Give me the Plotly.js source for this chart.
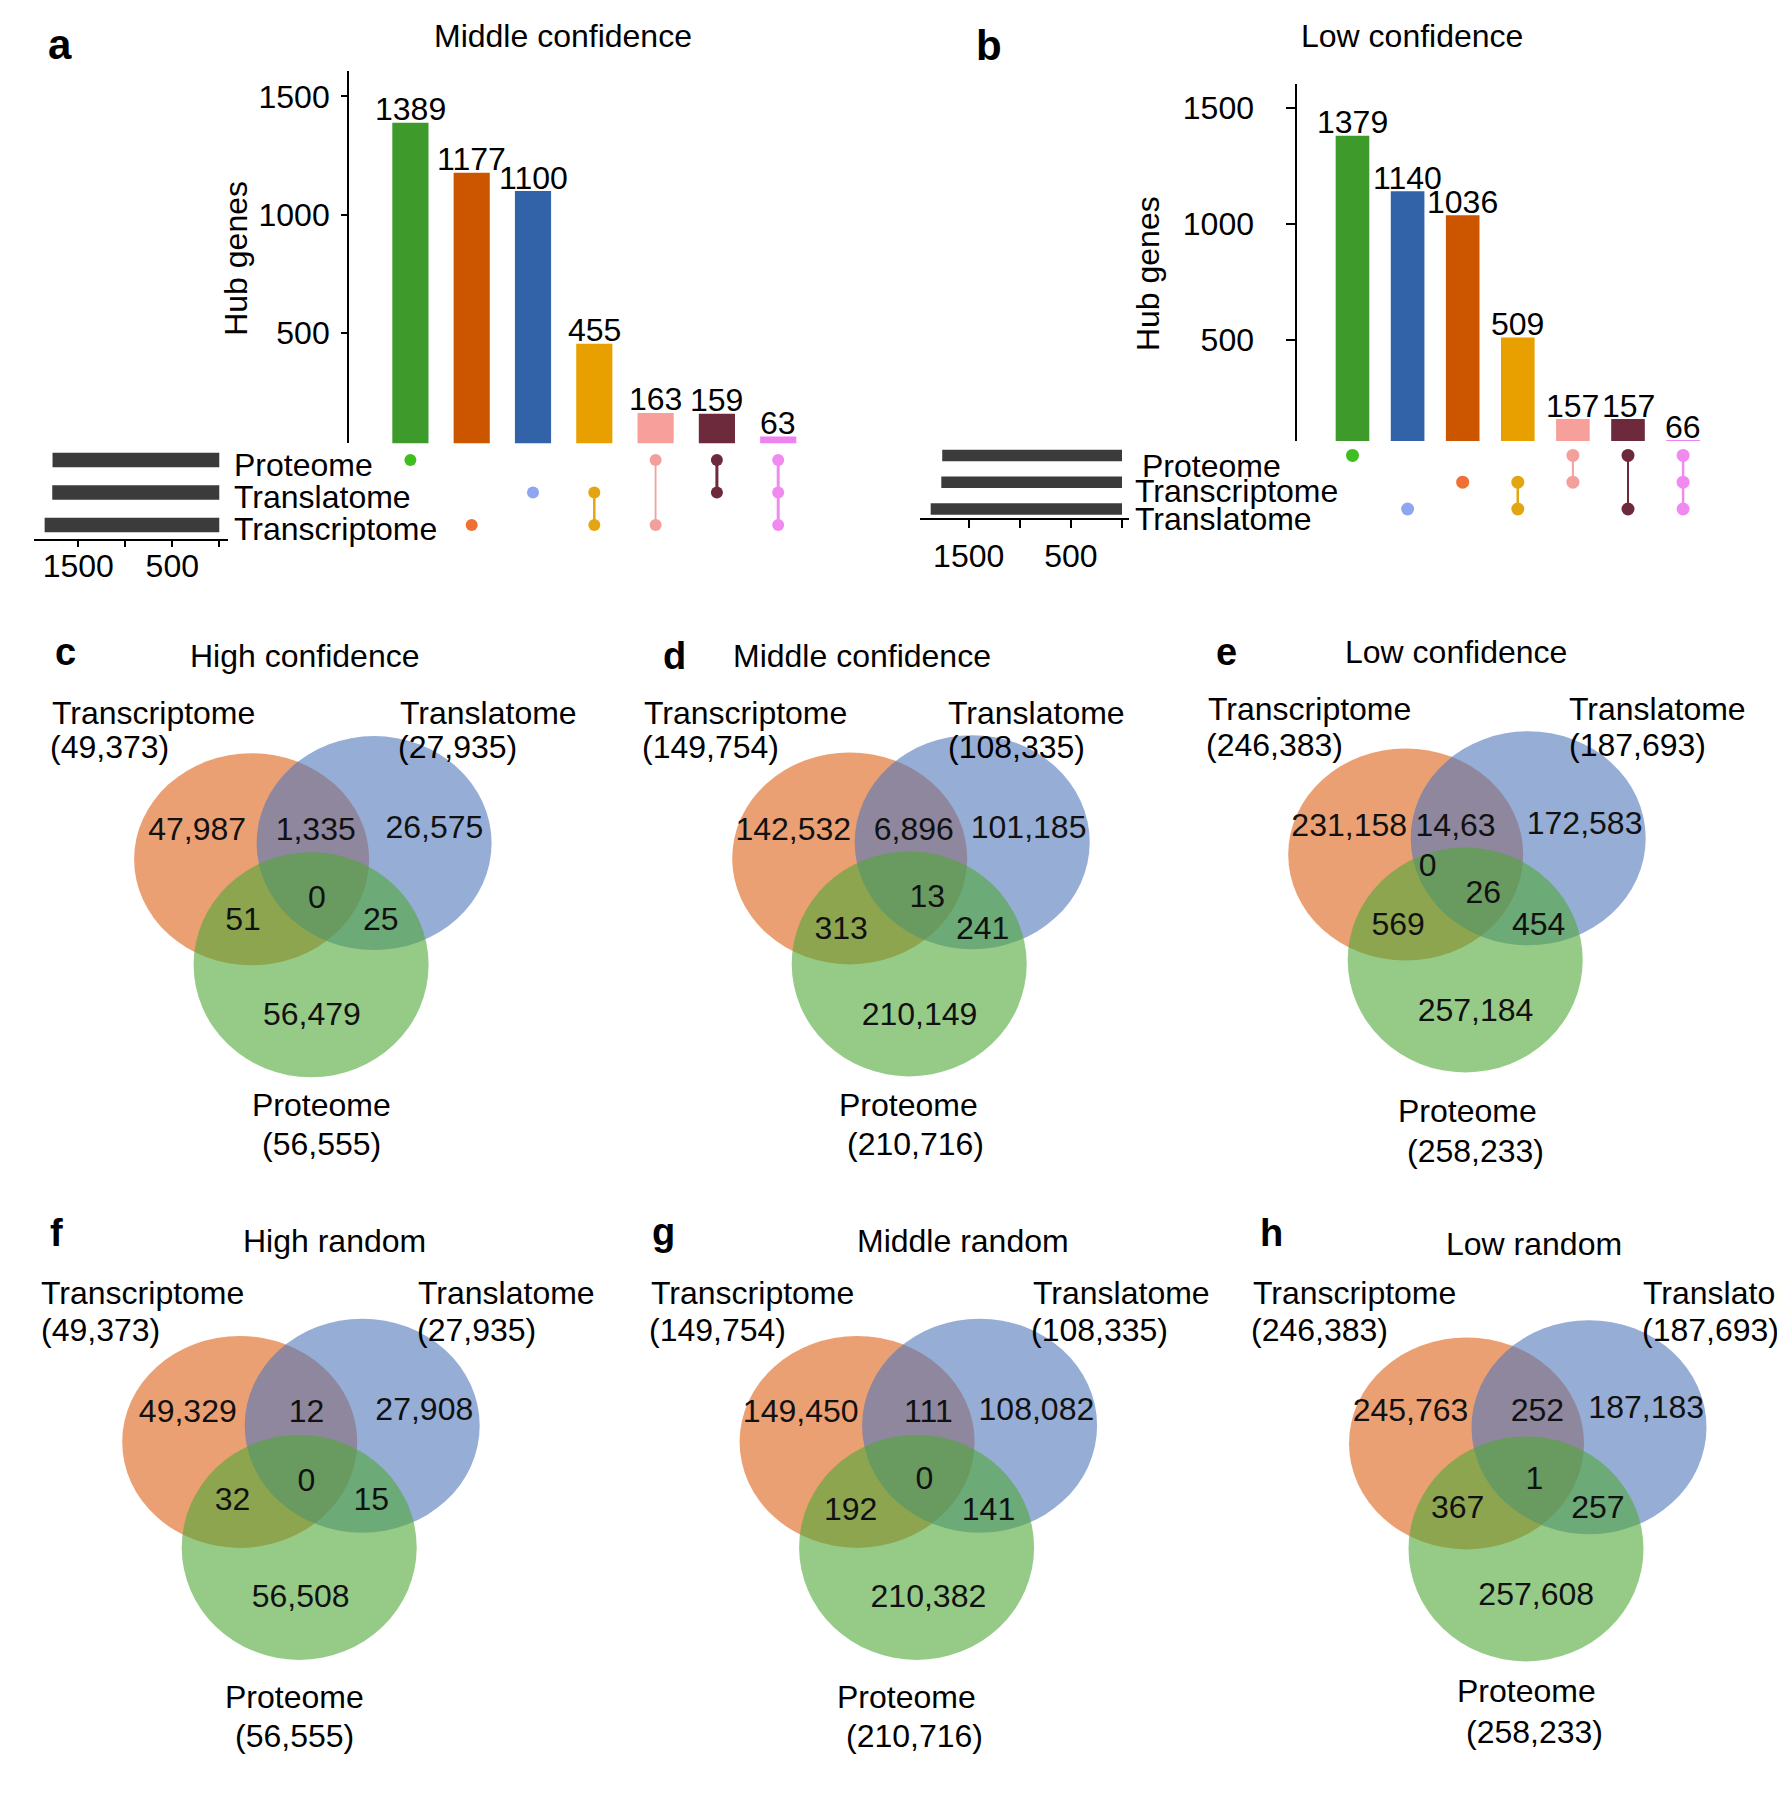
<!DOCTYPE html>
<html><head><meta charset="utf-8">
<script src="https://cdn.plot.ly/plotly-3.0.1.min.js"></script>
<style>html,body{margin:0;padding:0;background:#fff}#chart{width:1777px;height:1806px}</style>
</head><body><div id="chart"></div>
<script>
// ================= DATA =================
// Panel a: UpSet, Middle confidence
const aTitle = 'Middle confidence';
const aSets = ['Proteome', 'Translatome', 'Transcriptome'];
const aCounts = [1389, 1177, 1100, 455, 163, 159, 63];
const aMembers = [[0], [2], [1], [1, 2], [0, 2], [0, 1], [0, 1, 2]];
const aSetSizes = [1774, 1777, 1858];
// Panel b: UpSet, Low confidence
const bTitle = 'Low confidence';
const bSets = ['Proteome', 'Transcriptome', 'Translatome'];
const bCounts = [1379, 1140, 1036, 509, 157, 157, 66];
const bMembers = [[0], [2], [1], [1, 2], [0, 1], [0, 2], [0, 1, 2]];
const bSetSizes = [1759, 1768, 1872];
const upsetTicks = [500, 1000, 1500];
const setSizeTicks = [1500, 1000, 500, 0];
const setSizeTickText = ['1500', '', '500', ''];
const yTitle = 'Hub genes';

// Panels c-h: Venn diagrams
const vennLetters = ['c', 'd', 'e', 'f', 'g', 'h'];
const vennTitles = ['High confidence', 'Middle confidence', 'Low confidence', 'High random', 'Middle random', 'Low random'];
const transcriptomeTotals = ['49,373', '149,754', '246,383', '49,373', '149,754', '246,383'];
const translatomeTotals = ['27,935', '108,335', '187,693', '27,935', '108,335', '187,693'];
const proteomeTotals = ['56,555', '210,716', '258,233', '56,555', '210,716', '258,233'];
const onlyTranscriptome = ['47,987', '142,532', '231,158', '49,329', '149,450', '245,763'];
const transcriptomeTranslatome = ['1,335', '6,896', '14,63', '12', '111', '252'];
const onlyTranslatome = ['26,575', '101,185', '172,583', '27,908', '108,082', '187,183'];
const transcriptomeProteome = ['51', '313', '569', '32', '192', '367'];
const allThree = ['0', '13', '26', '0', '0', '1'];
const translatomeProteome = ['25', '241', '454', '15', '141', '257'];
const onlyProteome = ['56,479', '210,149', '257,184', '56,508', '210,382', '257,608'];
const extraLabelE = '0';

// ================= STYLE / LAYOUT =================
const W = 1777, H = 1806;
const px = v => v / W;
const py = v => 1 - v / H;
const FONT = 'Liberation Sans, Arial, Helvetica, sans-serif';
const FS = 32;

const aBarColors = ['#3d9a2b', '#cc5500', '#3263a8', '#e8a000', '#f7a09b', '#6d2a3d', '#ee82ee'];
const aDotColors = ['#3fbf1f', '#f07033', '#8ea6f0', '#e3a512', '#f3a09c', '#6d2a3d', '#f08af0'];
const aLineW = [2, 2, 2, 2.5, 1.8, 3, 3];
const bBarColors = ['#3d9a2b', '#3263a8', '#cc5500', '#e8a000', '#f7a09b', '#6d2a3d', '#ee82ee'];
const bDotColors = ['#3fbf1f', '#8ea6f0', '#f07033', '#e3a512', '#f3a09c', '#6d2a3d', '#f08af0'];
const bLineW = [2, 2, 2, 2.5, 2, 2, 2.5];
const setBarColor = '#3b3b3b';

const vennFill = ['rgba(222,97,22,0.6)', 'rgba(80,118,187,0.6)', 'rgba(80,168,55,0.6)'];
// orange-circle centres of each panel (pixels)
const vennOrigin = [[251.6, 859.3], [849.7, 858.4], [1405.7, 854.5], [239.7, 1441.9], [857.1, 1441.9], [1466.5, 1443.4]];
const circleOffset = [[0, 0], [122.5, -16.2], [59.5, 105.5]];
const circleRadius = [[117.5, 106], [117.5, 107], [117.5, 112.5]];
// region label positions: onlyTc, TcTl, onlyTl, TcPr, all3, TlPr, onlyPr
const regionPos = [
  [[197.1, 831.5], [315.7, 831.5], [434.4, 829.6], [243, 921.5], [316.9, 900.4], [380.8, 921.5], [311.9, 1017.1]],
  [[793.3, 831.5], [913.8, 831.5], [1028.6, 829.6], [841.1, 931], [927.2, 898.5], [982.7, 931], [919.5, 1017.1]],
  [[1349.2, 827.7], [1455.6, 827.7], [1584.6, 825.8], [1398.2, 927.2], [1483.2, 894.7], [1538.7, 927.2], [1475.5, 1013.3]],
  [[187.8, 1414], [306.5, 1414], [424.3, 1412], [232.6, 1502.4], [306.5, 1482.7], [371.3, 1502.4], [300.6, 1598.6]],
  [[800.7, 1414], [928.4, 1414], [1036.4, 1412], [850.6, 1512.2], [924.4, 1480.7], [988.5, 1512.2], [928.4, 1598.6]],
  [[1410.5, 1413.2], [1537.4, 1413.2], [1646.2, 1410], [1457.6, 1510.2], [1534.3, 1480.7], [1597.9, 1510.2], [1536.2, 1596.7]]
];
const extraPosE = [1427.7, 867.9];
// set label positions: [TcName, TcTotal, TlName, TlTotal] left-anchored; [PrName, PrTotal] centred
const setLabelPos = [
  [[49.8, 712.9], [47.8, 747.3], [398, 712.9], [396.1, 747.3], [321.7, 1105], [321.7, 1144]],
  [[642.1, 712.9], [640.2, 747.3], [946.3, 712.9], [946.3, 747.3], [908.1, 1105], [915.7, 1144]],
  [[1205.7, 709.1], [1203.8, 745.4], [1567.4, 709.1], [1567.4, 745.4], [1467.9, 1111], [1475.5, 1151]],
  [[39.3, 1292.9], [38.5, 1329.5], [415.7, 1292.9], [414.5, 1329.5], [294.7, 1697], [294.7, 1736]],
  [[649.4, 1292.9], [647.4, 1329.5], [1030.5, 1292.9], [1028.5, 1329.5], [906.7, 1697], [914.6, 1736]],
  [[1251.4, 1292.9], [1249.4, 1329.5], [1641.1, 1292.9], [1640.3, 1329.5], [1526.4, 1691], [1534.3, 1732]]
];
const vennTitlePos = [[304.2, 655.5], [862.1, 655.5], [1455.6, 651.7], [334, 1241.1], [962.5, 1241.1], [1534.3, 1244.2]];
const vennLetterPos = [[65.1, 652], [674.6, 655.5], [1226.8, 652], [57, 1233.2], [663.1, 1232], [1271, 1233.2]];

// ================= BUILD =================
const traces = [];
const annotations = [];
const shapes = [];

function upset(counts, members, setSizes, barColors, dotColors, lineW, xa, ya, ym, xs, barW, dotSize, setW) {
  const idx = counts.map((_, i) => i);
  traces.push({type: 'bar', x: idx, y: counts, xaxis: xa, yaxis: ya, width: barW,
    marker: {color: barColors, line: {width: 0}}, hoverinfo: 'skip', showlegend: false});
  counts.forEach((c, i) => annotations.push({x: i, y: c, xref: xa, yref: ya, text: String(c),
    showarrow: false, yanchor: 'bottom', xanchor: 'center', yshift: -6.5,
    font: {family: FONT, size: FS, color: '#000'}}));
  members.forEach((m, i) => traces.push({type: 'scatter', mode: 'lines+markers',
    x: m.map(() => i), y: m, xaxis: xa, yaxis: ym,
    marker: {size: dotSize, color: dotColors[i]}, line: {color: dotColors[i], width: lineW[i]},
    hoverinfo: 'skip', showlegend: false}));
  traces.push({type: 'bar', orientation: 'h', x: setSizes, y: setSizes.map((_, i) => i),
    xaxis: xs, yaxis: ym, width: setW, marker: {color: setBarColor}, hoverinfo: 'skip', showlegend: false});
}
upset(aCounts, aMembers, aSetSizes, aBarColors, aDotColors, aLineW, 'x', 'y', 'y2', 'x3', 0.59, 12, 0.44);
upset(bCounts, bMembers, bSetSizes, bBarColors, bDotColors, bLineW, 'x4', 'y4', 'y5', 'x6', 0.61, 13, 0.43);

function paperText(text, x, y, opts) {
  annotations.push(Object.assign({text: text, x: px(x), y: py(y), xref: 'paper', yref: 'paper',
    showarrow: false, xanchor: 'center', yanchor: 'middle',
    font: {family: FONT, size: FS, color: '#000'}}, opts || {}));
}
// upset texts
paperText('<b>a</b>', 60.3, 44.5, {font: {family: FONT, size: 42, color: '#000'}});
paperText('<b>b</b>', 988.7, 45.9, {font: {family: FONT, size: 42, color: '#000'}});
paperText(aTitle, 562.5, 36.4);
paperText(bTitle, 1412, 36.4);
paperText(yTitle, 236.5, 258.3, {textangle: -90});
paperText(yTitle, 1147.5, 273.6, {textangle: -90});
const aRowLabelPos = [[231.7, 465], [231.7, 496.7], [231.7, 529]];
const bRowLabelPos = [[1140.3, 465.7], [1133.4, 491], [1133.4, 518.6]];
aSets.forEach((s, i) => paperText(s, aRowLabelPos[i][0], aRowLabelPos[i][1], {xanchor: 'left'}));
bSets.forEach((s, i) => paperText(s, bRowLabelPos[i][0], bRowLabelPos[i][1], {xanchor: 'left'}));

// venn
const vx = [], vy = [], vt = [];
vennTitles.forEach((t, k) => {
  const o = vennOrigin[k];
  [0, 1, 2].forEach(j => {
    const cx = o[0] + circleOffset[j][0], cy = o[1] + circleOffset[j][1];
    shapes.push({type: 'circle', xref: 'x7', yref: 'y7', layer: 'below',
      x0: cx - circleRadius[j][0], x1: cx + circleRadius[j][0],
      y0: cy - circleRadius[j][1], y1: cy + circleRadius[j][1],
      fillcolor: vennFill[j], line: {width: 0}});
  });
  const vals = [onlyTranscriptome[k], transcriptomeTranslatome[k], onlyTranslatome[k],
    transcriptomeProteome[k], allThree[k], translatomeProteome[k], onlyProteome[k]];
  vals.forEach((v, j) => { vx.push(regionPos[k][j][0]); vy.push(regionPos[k][j][1]); vt.push(v); });
  if (k === 2) { vx.push(extraPosE[0]); vy.push(extraPosE[1]); vt.push(extraLabelE); }
  const L = setLabelPos[k];
  paperText('Transcriptome', L[0][0], L[0][1], {xanchor: 'left'});
  paperText('(' + transcriptomeTotals[k] + ')', L[1][0], L[1][1], {xanchor: 'left'});
  paperText('Translatome', L[2][0], L[2][1], {xanchor: 'left'});
  paperText('(' + translatomeTotals[k] + ')', L[3][0], L[3][1], {xanchor: 'left'});
  paperText('Proteome', L[4][0], L[4][1]);
  paperText('(' + proteomeTotals[k] + ')', L[5][0], L[5][1]);
  paperText(t, vennTitlePos[k][0], vennTitlePos[k][1]);
  paperText('<b>' + vennLetters[k] + '</b>', vennLetterPos[k][0], vennLetterPos[k][1],
    {font: {family: FONT, size: 38, color: '#000'}});
});
traces.push({type: 'scatter', mode: 'text', x: vx, y: vy, text: vt, xaxis: 'x7', yaxis: 'y7',
  textposition: 'middle center', textfont: {family: FONT, size: FS, color: '#111'},
  hoverinfo: 'skip', showlegend: false, cliponaxis: false});

const axBase = {showline: true, linecolor: '#000', linewidth: 2, ticks: 'outside', tickwidth: 2,
  tickcolor: '#000', showgrid: false, zeroline: false, fixedrange: true,
  tickfont: {family: FONT, size: FS, color: '#000'}};
const hidden = {visible: false, fixedrange: true, showgrid: false, zeroline: false};

const layout = {
  width: W, height: H, margin: {l: 0, r: 0, t: 0, b: 0, pad: 0},
  paper_bgcolor: '#fff', plot_bgcolor: 'rgba(0,0,0,0)', showlegend: false,
  font: {family: FONT, size: FS, color: '#000'},
  xaxis: Object.assign({}, hidden, {domain: [px(349.1), px(839.5)], range: [-1, 7], anchor: 'y'}),
  yaxis: Object.assign({}, axBase, {domain: [py(443.2), py(70.8)], range: [35, 1608], anchor: 'x',
    tickvals: upsetTicks, ticklen: 6, ticklabelstandoff: 5}),
  yaxis2: Object.assign({}, hidden, {domain: [py(541.25), py(443.75)], range: [2.5, -0.5], anchor: 'x'}),
  xaxis3: Object.assign({}, axBase, {domain: [px(34.3), px(228.3)], range: [1968, -96], anchor: 'free',
    position: py(540), tickvals: setSizeTicks, ticktext: setSizeTickText, ticklen: 6, ticklabelstandoff: -8}),
  xaxis4: Object.assign({}, hidden, {domain: [px(1297.4), px(1738.2)], range: [-1, 7], anchor: 'y4'}),
  yaxis4: Object.assign({}, axBase, {domain: [py(440.9), py(84.2)], range: [62.6, 1602], anchor: 'x4',
    tickvals: upsetTicks, ticklen: 9, ticklabelstandoff: 26}),
  yaxis5: Object.assign({}, hidden, {domain: [py(522.4), py(442)], range: [2.5, -0.5], anchor: 'x4'}),
  xaxis6: Object.assign({}, axBase, {domain: [px(920), px(1128.8)], range: [1976.5, -66.5], anchor: 'free',
    position: py(519.3), tickvals: setSizeTicks, ticktext: setSizeTickText, ticklen: 8, ticklabelstandoff: 0}),
  xaxis7: Object.assign({}, hidden, {domain: [0, 1], range: [0, W], anchor: 'y7'}),
  yaxis7: Object.assign({}, hidden, {domain: [0, 1], range: [H, 0], anchor: 'x7'}),
  annotations: annotations,
  shapes: shapes
};
Plotly.newPlot('chart', traces, layout, {displayModeBar: false, staticPlot: true});
</script>
</body></html>
